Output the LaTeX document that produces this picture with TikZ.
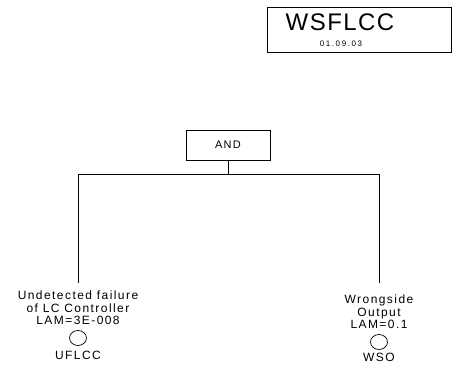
\documentclass[tikz,border=0pt]{standalone}
\usepackage{fontspec}
\usetikzlibrary{shapes.geometric}
\setmainfont{Liberation Sans}
\newfontfamily\labfont[LetterSpace=12]{Liberation Sans}
\newfontfamily\titlefont[LetterSpace=6]{Liberation Sans}
\newfontfamily\datefont[LetterSpace=20]{Liberation Sans}
\begin{document}
\begin{tikzpicture}[x=1pt,y=-1pt,
  gatebox/.style={draw, line width=0.7pt, minimum width=84pt, minimum height=30pt, inner sep=0pt},
  wire/.style={line width=0.8pt},
  evtext/.style={align=center, font=\labfont\fontsize{12}{12.5}\selectfont, inner sep=0pt},
  evcirc/.style={draw, line width=0.7pt, ellipse, minimum width=17pt, minimum height=15pt, inner sep=0pt},
  idtext/.style={font=\labfont\fontsize{12}{12.5}\selectfont, inner sep=0pt}
]
\useasboundingbox (0,0) rectangle (455,374);
% title box
\node[draw, line width=0.7pt, minimum width=184pt, minimum height=45pt, inner sep=0pt] (title) at (359,29.5) {};
\node[font=\titlefont\fontsize{24}{26}\selectfont, inner sep=0pt] (tname) at (340,22) {WSFLCC};
\node[font=\datefont\fontsize{8}{9}\selectfont, inner sep=0pt] (tdate) at (341,44) {01.09.03};
% AND gate
\node[gatebox, font=\labfont\fontsize{11}{12}\selectfont] (and) at (228,145) {AND};
\coordinate (bus) at (228,174);
\coordinate (busL) at (78,174);
\coordinate (busR) at (379,174);
\coordinate (dropL) at (78,283);
\coordinate (dropR) at (379,283);
\draw[wire] (and.south) -- (bus);
\draw[wire] (busL) -- (busR);
\draw[wire] (busL) -- (dropL);
\draw[wire] (busR) -- (dropR);
% left event
\node[evtext] (ltext) at (78,308) {Undetected failure\\of LC Controller\\LAM=3E-008};
\node[evcirc] (lcirc) at (78,338) {};
\node[idtext] (lid) at (78,355) {UFLCC};
% right event
\node[evtext] (rtext) at (379,312) {Wrongside\\Output\\LAM=0.1};
\node[evcirc] (rcirc) at (379,342) {};
\node[idtext] (rid) at (379,357) {WSO};
\end{tikzpicture}
\end{document}
